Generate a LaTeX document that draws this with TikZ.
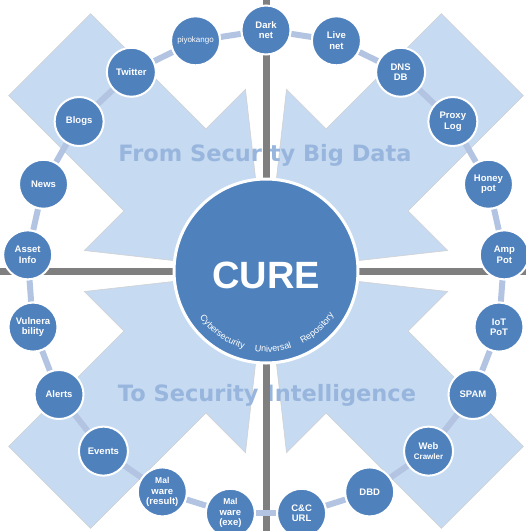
\documentclass[tikz,border=0pt]{standalone}
\usepackage{fontspec}
\setmainfont{Liberation Sans}
\newfontfamily\widefont{DejaVu Sans}
\usetikzlibrary{decorations.text}

\definecolor{ringblue}{RGB}{79,129,189}
\definecolor{arrowfill}{RGB}{198,218,241}
\definecolor{arrowtext}{RGB}{152,182,221}
\definecolor{linkblue}{RGB}{178,196,226}
\definecolor{axisgray}{RGB}{127,127,127}

\pgfdeclarelayer{bg}
\pgfdeclarelayer{links}
\pgfsetlayers{bg,links,main}

\begin{document}
\begin{tikzpicture}[
  x=1pt, y=-1pt,
  src/.style={circle, draw=white, line width=2pt, fill=ringblue, minimum size=49pt, inner sep=0pt, align=center, text=white, font=\bfseries\fontsize{9.5}{10.5}\selectfont},
  hub/.style={circle, draw=white, line width=3pt, fill=ringblue, minimum size=184pt, inner sep=0pt},
  link/.style={linkblue, line width=6pt},
  bigarrow/.style={fill=arrowfill, draw=black!18, line width=0.6pt},
  banner/.style={text=arrowtext, anchor=base, font=\widefont\bfseries\fontsize{22.5}{27}\selectfont},
  axis/.style={axisgray, line width=7pt}
]
\useasboundingbox (0,0) rectangle (526,531);
\coordinate (c) at (266,271);
\coordinate (axtop) at (266,0);
\coordinate (axbot) at (266,531);
\coordinate (axleft) at (0,271);
\coordinate (axright) at (526,271);

\begin{pgfonlayer}{bg}
\foreach \rot in {-45,-135,45,135}
  \draw[bigarrow, shift={(c)}, rotate=\rot] (0,0) -- (-143,114) -- (-143,58) -- (-306,58) -- (-306,-58) -- (-143,-58) -- (-143,-114) -- cycle;
\node[banner] (from) at (265,161) {From Security Big Data};
\node[banner] (to) at (267,401) {To Security Intelligence};
\draw[axis] (axtop) -- (axbot);
\draw[axis] (axleft) -- (axright);
\end{pgfonlayer}

% data sources around the ring, clockwise from the top
\foreach \lbl [count=\i from 0] in {Dark\\net, Live\\net, DNS\\DB, Proxy\\Log, Honey\\pot, Amp\\Pot, IoT\\PoT, SPAM,
    Web\\\fontsize{8}{9}\selectfont Crawler, DBD, C\&C\\URL, \fontsize{8.5}{9}\selectfont Mal\\ware\\(exe),
    \fontsize{8.5}{9}\selectfont Mal\\ware\\(result), Events, Alerts, Vulnera\\bility, Asset\\Info, News, Blogs, Twitter,
    \mdseries\fontsize{8}{9}\selectfont piyokango}
  \node[src] (n\i) at ({266+239*cos(90-\i*360/21)}, {273-243*sin(90-\i*360/21)}) {\lbl};

\begin{pgfonlayer}{links}
\foreach \i [evaluate=\i as \j using {int(mod(\i+1,21))}] in {0,...,20}
  \draw[link] (n\i) -- (n\j);
\end{pgfonlayer}

\node[hub] (cure) at (c) {};
\node[text=white, font=\bfseries\fontsize{38}{40}\selectfont] (title) at (266,275) {CURE};
\path[decorate, decoration={text along path, text align={fit to path stretching spaces},
    text={|\fontsize{9}{10}\selectfont\color{white}|Cybersecurity Universal Repository}}]
  (c) ++(215:81pt) arc[start angle=215, end angle=327, radius=81pt];
\end{tikzpicture}
\end{document}
